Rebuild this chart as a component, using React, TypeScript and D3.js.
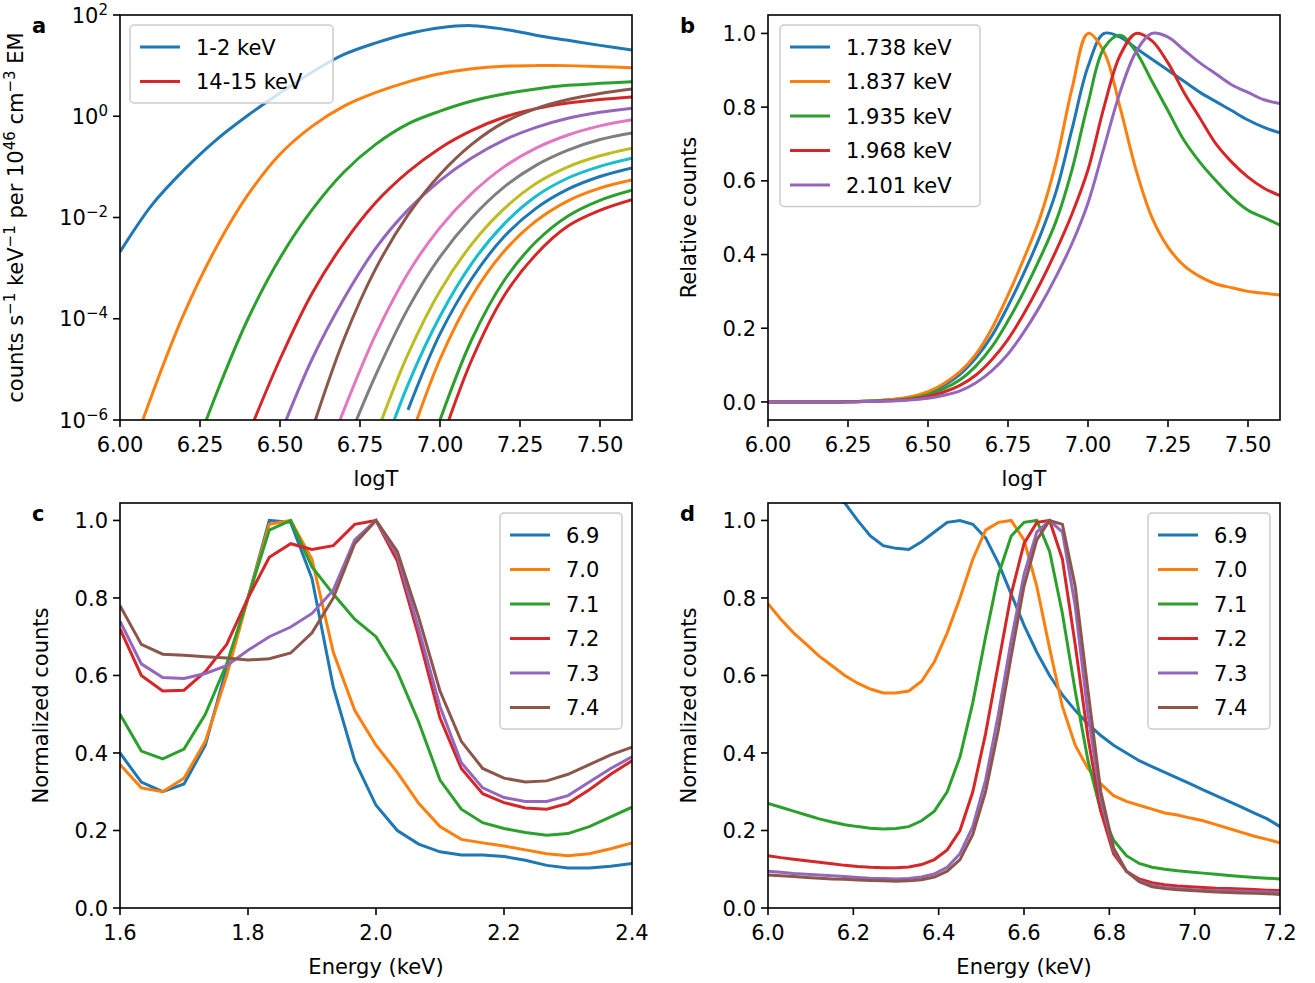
import React from 'react';
import * as d3 from 'd3';

const C = ['#1f77b4', '#ff7f0e', '#2ca02c', '#d62728', '#9467bd', '#8c564b', '#e377c2', '#7f7f7f', '#bcbd22', '#17becf'];

// panel a: log10 counts on a logT grid (step 0.1)
const logTa = [6.0, 6.1, 6.2, 6.3, 6.4, 6.5, 6.6, 6.7, 6.8, 6.9, 7.0, 7.1, 7.2, 7.3, 7.4, 7.5, 7.6];
const bandCurves: (number | null)[][] = [
  [-2.68, -1.75, -1.06, -0.47, 0.02, 0.46, 0.87, 1.22, 1.45, 1.63, 1.75, 1.79, 1.72, 1.6, 1.5, 1.4, 1.31],
  [-7.3, -5.5, -3.9, -2.6, -1.55, -0.75, -0.2, 0.2, 0.47, 0.68, 0.84, 0.94, 0.99, 1.0, 1.0, 0.98, 0.96],
  [null, null, -7.2, -5.5, -4.0, -2.8, -1.85, -1.1, -0.55, -0.15, 0.1, 0.3, 0.44, 0.54, 0.61, 0.65, 0.68],
  [null, null, null, null, -6.3, -4.8, -3.5, -2.5, -1.7, -1.1, -0.63, -0.28, -0.02, 0.15, 0.26, 0.33, 0.38],
  [null, null, null, null, null, -6.3, -4.8, -3.6, -2.6, -1.85, -1.27, -0.82, -0.47, -0.22, -0.04, 0.08, 0.16],
  [null, null, null, null, null, null, -6.2, -4.4, -3.0, -1.95, -1.15, -0.55, -0.12, 0.15, 0.33, 0.45, 0.54],
  [null, null, null, null, null, null, -7.5, -5.8, -4.3, -3.1, -2.2, -1.52, -1.0, -0.63, -0.37, -0.19, -0.07],
  [null, null, null, null, null, null, null, -6.6, -5.1, -3.8, -2.78, -2.0, -1.4, -0.97, -0.67, -0.46, -0.33],
  [null, null, null, null, null, null, null, null, -6.3, -4.7, -3.45, -2.52, -1.83, -1.33, -1.0, -0.78, -0.63],
  [null, null, null, null, null, null, null, null, -7.0, -5.3, -3.95, -2.9, -2.13, -1.58, -1.22, -0.99, -0.83],
  [null, null, null, null, null, null, null, null, null, -5.8, -4.3, -3.2, -2.38, -1.82, -1.44, -1.19, -1.02],
  [null, null, null, null, null, null, null, null, null, -6.5, -4.8, -3.55, -2.67, -2.07, -1.67, -1.42, -1.26],
  [null, null, null, null, null, null, null, null, null, null, -6.0, -4.4, -3.25, -2.48, -1.97, -1.66, -1.46],
  [null, null, null, null, null, null, null, null, null, null, -6.5, -4.8, -3.55, -2.73, -2.17, -1.86, -1.65],
];
const bandLegend = ['1-2 keV', '14-15 keV'];

// panel b: relative counts on a logT grid (step 0.05)
const logTb = [6.0, 6.05, 6.1, 6.15, 6.2, 6.25, 6.3, 6.35, 6.4, 6.45, 6.5, 6.55, 6.6, 6.65, 6.7, 6.75, 6.8, 6.85, 6.9, 6.95, 7.0, 7.05, 7.1, 7.15, 7.2, 7.25, 7.3, 7.35, 7.4, 7.45, 7.5, 7.55, 7.6];
const lineNames = ['1.738 keV', '1.837 keV', '1.935 keV', '1.968 keV', '2.101 keV'];
const lineCurves = [
  [0, 0, 0, 0, 0, 0.001, 0.002, 0.004, 0.007, 0.013, 0.025, 0.045, 0.075, 0.12, 0.18, 0.26, 0.35, 0.45, 0.57, 0.74, 0.91, 1.0, 0.99, 0.96, 0.93, 0.9, 0.87, 0.84, 0.815, 0.79, 0.765, 0.745, 0.73],
  [0, 0, 0, 0, 0, 0.001, 0.002, 0.004, 0.008, 0.015, 0.028, 0.05, 0.082, 0.13, 0.2, 0.29, 0.39, 0.5, 0.65, 0.85, 1.0, 0.95, 0.8, 0.63, 0.5, 0.42, 0.37, 0.34, 0.32, 0.31, 0.3, 0.295, 0.29],
  [0, 0, 0, 0, 0, 0.001, 0.002, 0.003, 0.005, 0.01, 0.02, 0.036, 0.06, 0.098, 0.15, 0.22, 0.3, 0.39, 0.49, 0.63, 0.81, 0.96, 0.995, 0.95, 0.87, 0.79, 0.71, 0.65, 0.6, 0.555, 0.52, 0.5, 0.48],
  [0, 0, 0, 0, 0, 0, 0.001, 0.002, 0.004, 0.008, 0.015, 0.027, 0.045, 0.073, 0.115, 0.17, 0.24, 0.32, 0.41, 0.51, 0.63, 0.8, 0.94, 1.0, 0.98, 0.92, 0.84, 0.77, 0.7, 0.65, 0.61, 0.58, 0.56],
  [0, 0, 0, 0, 0, 0, 0.001, 0.002, 0.003, 0.006, 0.01, 0.018, 0.03, 0.052, 0.085, 0.13, 0.19, 0.26, 0.34, 0.43, 0.54, 0.69, 0.84, 0.95, 1.0, 0.99, 0.955, 0.92, 0.89, 0.86, 0.84, 0.82, 0.81],
];

// panels c, d: normalized counts by temperature
const tempNames = ['6.9', '7.0', '7.1', '7.2', '7.3', '7.4'];
const energyC = [1.6, 1.6333, 1.6667, 1.7, 1.7333, 1.7667, 1.8, 1.8333, 1.8667, 1.9, 1.9333, 1.9667, 2.0, 2.0333, 2.0667, 2.1, 2.1333, 2.1667, 2.2, 2.2333, 2.2667, 2.3, 2.3333, 2.3667, 2.4];
const specC = [
  [0.4, 0.325, 0.3, 0.32, 0.42, 0.62, 0.8, 1.0, 0.995, 0.85, 0.57, 0.38, 0.265, 0.2, 0.165, 0.145, 0.137, 0.137, 0.133, 0.123, 0.11, 0.103, 0.103, 0.108, 0.115],
  [0.37, 0.31, 0.3, 0.335, 0.43, 0.6, 0.8, 0.99, 1.0, 0.9, 0.66, 0.51, 0.42, 0.35, 0.27, 0.21, 0.177, 0.168, 0.16, 0.15, 0.14, 0.135, 0.14, 0.153, 0.168],
  [0.5, 0.405, 0.385, 0.41, 0.5, 0.63, 0.8, 0.975, 1.0, 0.88, 0.81, 0.745, 0.7, 0.61, 0.48, 0.33, 0.255, 0.22, 0.205, 0.195, 0.188, 0.192, 0.21, 0.235, 0.26],
  [0.72, 0.6, 0.56, 0.562, 0.61, 0.68, 0.8, 0.905, 0.94, 0.925, 0.935, 0.99, 1.0, 0.895, 0.7, 0.49, 0.36, 0.295, 0.272, 0.258, 0.255, 0.27, 0.305, 0.345, 0.38],
  [0.74, 0.63, 0.595, 0.592, 0.605, 0.625, 0.665, 0.7, 0.725, 0.76, 0.82, 0.95, 1.0, 0.91, 0.72, 0.52, 0.375, 0.31, 0.285, 0.275, 0.275, 0.29, 0.325, 0.36, 0.39],
  [0.78, 0.68, 0.655, 0.652, 0.648, 0.645, 0.64, 0.643, 0.658, 0.71, 0.8, 0.94, 1.0, 0.92, 0.75, 0.56, 0.43, 0.36, 0.335, 0.325, 0.328, 0.345, 0.37, 0.395, 0.415],
];
const energyD = [6.0, 6.03, 6.06, 6.09, 6.12, 6.15, 6.18, 6.21, 6.24, 6.27, 6.3, 6.33, 6.36, 6.39, 6.42, 6.45, 6.48, 6.51, 6.54, 6.57, 6.6, 6.63, 6.66, 6.69, 6.72, 6.75, 6.78, 6.81, 6.84, 6.87, 6.9, 6.93, 6.96, 6.99, 7.02, 7.05, 7.08, 7.11, 7.14, 7.17, 7.2];
const specD = [
  [1.25, 1.2, 1.16, 1.12, 1.09, 1.06, 1.045, 1.0, 0.96, 0.935, 0.928, 0.925, 0.945, 0.97, 0.995, 1.0, 0.99, 0.955, 0.89, 0.81, 0.73, 0.66, 0.6, 0.55, 0.51, 0.475, 0.445, 0.42, 0.4, 0.38, 0.365, 0.35, 0.335, 0.32, 0.305, 0.29, 0.275, 0.26, 0.245, 0.23, 0.21],
  [0.785, 0.745, 0.71, 0.68, 0.65, 0.625, 0.6, 0.58, 0.565, 0.555, 0.555, 0.56, 0.585, 0.635, 0.71, 0.8, 0.9, 0.975, 0.995, 1.0, 0.95, 0.83, 0.67, 0.52, 0.42, 0.36, 0.32, 0.29, 0.275, 0.265, 0.255, 0.245, 0.24, 0.232, 0.225, 0.215, 0.205, 0.195, 0.185, 0.177, 0.168],
  [0.27, 0.26, 0.25, 0.24, 0.23, 0.222, 0.215, 0.21, 0.206, 0.204, 0.205, 0.21, 0.225, 0.25, 0.3, 0.39, 0.53, 0.7, 0.86, 0.96, 0.995, 1.0, 0.92, 0.76, 0.56, 0.38, 0.25, 0.175, 0.135, 0.115, 0.105, 0.1, 0.096, 0.093, 0.09, 0.087, 0.084, 0.081, 0.079, 0.077, 0.075],
  [0.135, 0.13, 0.126, 0.122, 0.118, 0.114, 0.11, 0.107, 0.105, 0.104, 0.104, 0.106, 0.112, 0.125, 0.15, 0.2, 0.3, 0.45, 0.63, 0.81, 0.94, 0.995, 1.0, 0.9, 0.68, 0.44, 0.25, 0.14, 0.095, 0.075, 0.065, 0.06, 0.057, 0.055, 0.053, 0.051, 0.05, 0.049, 0.048, 0.046, 0.045],
  [0.095, 0.092, 0.089, 0.087, 0.085, 0.083, 0.081, 0.079, 0.077, 0.076, 0.075, 0.076, 0.08, 0.088, 0.105, 0.14, 0.21, 0.33, 0.5, 0.69, 0.86, 0.97, 1.0, 0.97, 0.78, 0.5, 0.28, 0.15, 0.095, 0.07, 0.058, 0.053, 0.05, 0.048, 0.046, 0.045, 0.044, 0.043, 0.042, 0.041, 0.04],
  [0.085, 0.083, 0.081, 0.079, 0.077, 0.075, 0.074, 0.072, 0.071, 0.07, 0.069, 0.07, 0.073, 0.08, 0.095, 0.125, 0.19, 0.3, 0.46, 0.65, 0.83, 0.95, 1.0, 0.99, 0.83, 0.56, 0.3, 0.155, 0.095, 0.068, 0.055, 0.05, 0.047, 0.045, 0.043, 0.041, 0.04, 0.039, 0.038, 0.037, 0.035],
];

const FONT = 'DejaVu Sans, sans-serif';
const FS = 21;
const SUP = 15;

type Series = { xs: number[]; ys: (number | null)[]; color: string };
type LegendItem = { label: string; color: string };

function Panel(props: {
  id: string; letter: string; left: number; top: number; w: number; h: number;
  x: d3.ScaleLinear<number, number>; y: d3.ScaleLinear<number, number>;
  xTicks: number[]; xFmt: (v: number) => string;
  yTicks: number[]; yFmt: (v: number) => React.ReactNode;
  xLabel: string; yLabel: React.ReactNode; yLabelX: number;
  series: Series[]; curve: d3.CurveFactory;
  legend: LegendItem[]; legendX: number; legendW: number;
}) {
  const { x, y } = props;
  const line = d3.line<[number, number | null]>()
    .defined(d => d[1] !== null)
    .x(d => x(d[0]))
    .y(d => y(d[1] as number))
    .curve(props.curve);
  const rowH = 34.5;
  const legH = props.legend.length * rowH + 9;
  return (
    <g transform={`translate(${props.left},${props.top})`} fontFamily={FONT} fontSize={FS}>
      <defs>
        <clipPath id={props.id}><rect width={props.w} height={props.h} /></clipPath>
      </defs>
      <g clipPath={`url(#${props.id})`}>
        {props.series.map((s, i) => (
          <path key={i} d={line(s.xs.map((v, j) => [v, s.ys[j]]) as any) || ''} fill="none" stroke={s.color} strokeWidth={3} />
        ))}
      </g>
      <rect width={props.w} height={props.h} fill="none" stroke="#000" strokeWidth={1.6} />
      {props.xTicks.map(t => (
        <g key={t} transform={`translate(${x(t)},${props.h})`}>
          <line y2={7} stroke="#000" strokeWidth={1.6} />
          <text y={32} textAnchor="middle">{props.xFmt(t)}</text>
        </g>
      ))}
      {props.yTicks.map(t => (
        <g key={t} transform={`translate(0,${y(t)})`}>
          <line x2={-7} stroke="#000" strokeWidth={1.6} />
          <text x={-12} dy="0.36em" textAnchor="end">{props.yFmt(t)}</text>
        </g>
      ))}
      <text x={props.w / 2} y={props.h + 66} textAnchor="middle">{props.xLabel}</text>
      <text transform={`translate(${props.yLabelX},${props.h / 2}) rotate(-90)`} textAnchor="middle">{props.yLabel}</text>
      <text x={-88} y={18} fontWeight="bold">{props.letter}</text>
      <g transform={`translate(${props.legendX},10)`}>
        <rect width={props.legendW} height={legH} rx={4} fill="#fff" fillOpacity={0.8} stroke="#ccc" strokeWidth={1.5} />
        {props.legend.map((l, i) => (
          <g key={i} transform={`translate(0,${22 + i * rowH})`}>
            <line x1={10} x2={50} stroke={l.color} strokeWidth={3} />
            <text x={66} dy="0.36em">{l.label}</text>
          </g>
        ))}
      </g>
    </g>
  );
}

const sup = (base: string, exp: string) => (
  <>{base}<tspan fontSize={SUP} dy={-8}>{exp}</tspan></>
);

export default function App() {
  const W = 512, H = 405;
  const xa = d3.scaleLinear().domain([6, 7.6]).range([0, W]);
  const ya = d3.scaleLinear().domain([-6, 2]).range([H, 0]);
  const yb = d3.scaleLinear().domain([-0.049, 1.05]).range([H, 0]);
  const xc = d3.scaleLinear().domain([1.6, 2.4]).range([0, W]);
  const xd = d3.scaleLinear().domain([6, 7.2]).range([0, W]);
  const yc = d3.scaleLinear().domain([0, 1.045]).range([H, 0]);
  const logTicks = [-6, -4, -2, 0, 2];
  const tTicks = [6, 6.25, 6.5, 6.75, 7, 7.25, 7.5];
  const smooth = d3.curveCatmullRom.alpha(0.5);

  return (
    <svg width={1315} height={983} style={{ display: 'block', position: 'absolute', left: 0, top: 0 }}>
      <rect width={1315} height={983} fill="#fff" />
      <Panel id="ca" letter="a" left={120} top={15} w={W} h={H} x={xa} y={ya}
        xTicks={tTicks} xFmt={d3.format('.2f')}
        yTicks={logTicks} yFmt={v => sup('10', v < 0 ? `\u2212${-v}` : `${v}`)}
        xLabel="logT"
        yLabel={<>counts s<tspan fontSize={SUP} dy={-8}>{'\u22121'}</tspan><tspan dy={8}> keV</tspan><tspan fontSize={SUP} dy={-8}>{'\u22121'}</tspan><tspan dy={8}> per 10</tspan><tspan fontSize={SUP} dy={-8}>46</tspan><tspan dy={8}> cm</tspan><tspan fontSize={SUP} dy={-8}>{'\u22123'}</tspan><tspan dy={8}> EM</tspan></>}
        yLabelX={-97}
        series={bandCurves.map((ys, i) => ({ xs: logTa, ys, color: C[i % 10] }))}
        curve={smooth}
        legend={[{ label: bandLegend[0], color: C[0] }, { label: bandLegend[1], color: C[13 % 10] }]}
        legendX={10} legendW={203} />
      <Panel id="cb" letter="b" left={768} top={15} w={W} h={H} x={xa} y={yb}
        xTicks={tTicks} xFmt={d3.format('.2f')}
        yTicks={[0, 0.2, 0.4, 0.6, 0.8, 1]} yFmt={v => d3.format('.1f')(v)}
        xLabel="logT" yLabel="Relative counts" yLabelX={-72}
        series={lineCurves.map((ys, i) => ({ xs: logTb, ys, color: C[i] }))}
        curve={smooth}
        legend={lineNames.map((l, i) => ({ label: l, color: C[i] }))}
        legendX={12} legendW={200} />
      <Panel id="cc" letter="c" left={120} top={503} w={W} h={H} x={xc} y={yc}
        xTicks={[1.6, 1.8, 2.0, 2.2, 2.4]} xFmt={d3.format('.1f')}
        yTicks={[0, 0.2, 0.4, 0.6, 0.8, 1]} yFmt={v => d3.format('.1f')(v)}
        xLabel="Energy (keV)" yLabel="Normalized counts" yLabelX={-72}
        series={specC.map((ys, i) => ({ xs: energyC, ys, color: C[i] }))}
        curve={d3.curveLinear}
        legend={tempNames.map((l, i) => ({ label: l, color: C[i] }))}
        legendX={380} legendW={122} />
      <Panel id="cd" letter="d" left={768} top={503} w={W} h={H} x={xd} y={yc}
        xTicks={[6, 6.2, 6.4, 6.6, 6.8, 7.0, 7.2]} xFmt={d3.format('.1f')}
        yTicks={[0, 0.2, 0.4, 0.6, 0.8, 1]} yFmt={v => d3.format('.1f')(v)}
        xLabel="Energy (keV)" yLabel="Normalized counts" yLabelX={-72}
        series={specD.map((ys, i) => ({ xs: energyD, ys, color: C[i] }))}
        curve={d3.curveLinear}
        legend={tempNames.map((l, i) => ({ label: l, color: C[i] }))}
        legendX={380} legendW={122} />
    </svg>
  );
}
